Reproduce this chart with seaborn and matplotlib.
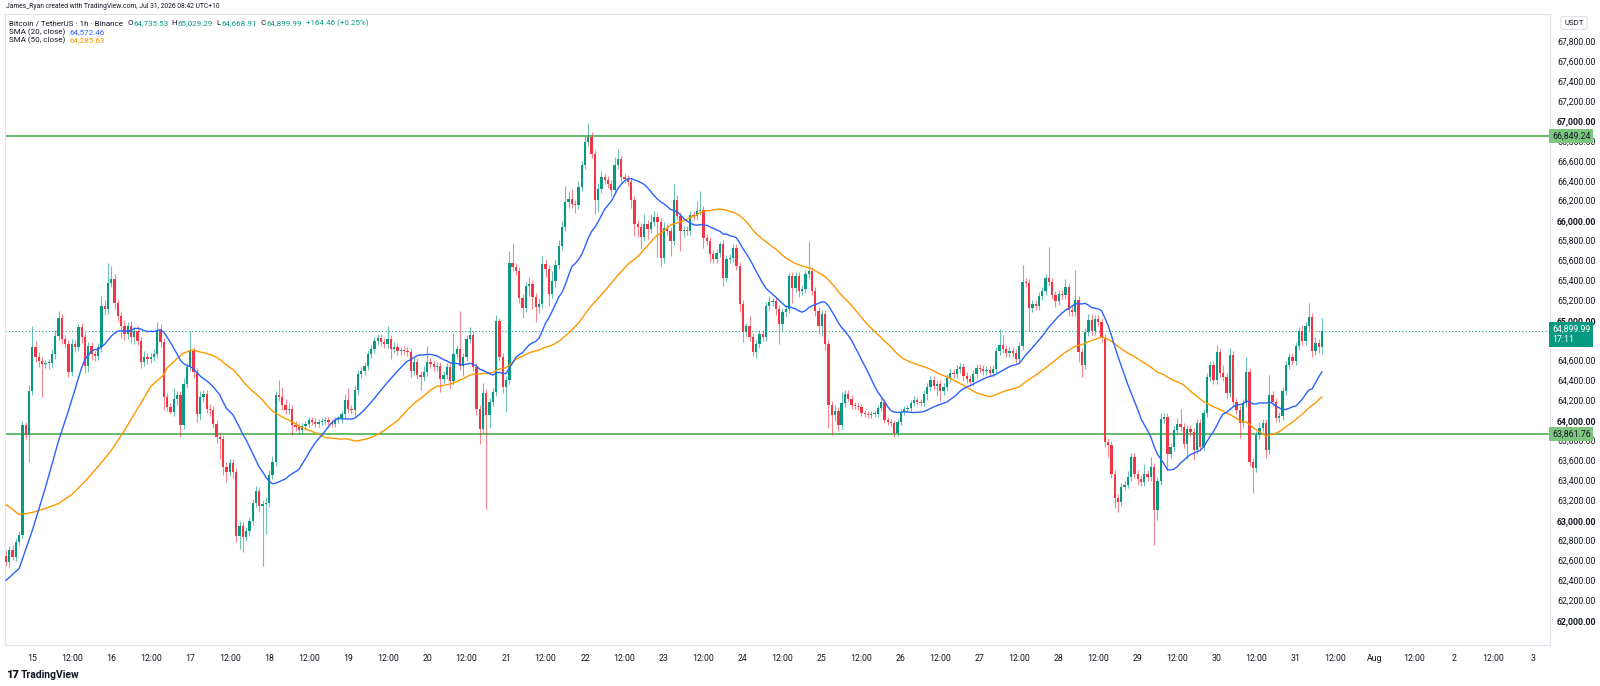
import numpy as np
import pandas as pd
import seaborn as sns
import matplotlib.pyplot as plt
import matplotlib.transforms as mtransforms

# BTC/USDT 1h (Binance), first candle Jul 14 16:00, last Jul 31 08:00 (UTC+10)
first_open = 62640
closes = [
    # i0 - Jul 14 16:00
    62580, 62700, 62630, 62780, 62850, 63955, 63860, 64300, 64735, 64640,
    64600, 64570, 64575, 64580, 64670, 64850, 65030, 64820, 64770, 64485,
    64770, 64735, 64940, 64835, 64550, 64750, 64670, 64650, 64735, 65150,
    65115, 65380, 65415, 65180, 65050, 64950, 64865, 64950, 64835, 64900,
    # i40
    64800, 64585, 64635, 64620, 64640, 64670, 64905, 64785, 64235, 64135,
    64090, 64220, 64255, 63955, 64370, 64535, 64700, 64485, 64070, 64235,
    64270, 64120, 64105, 63970, 63840, 63820, 63540, 63490, 63575, 63490,
    62845, 62945, 62830, 62895, 62995, 63175, 63290, 63140,
    # i78 - Jul 18
    63160, 63175, 63460, 63590, 64255, 64235, 64155, 64105, 64120, 63955,
    63940, 63905, 63945, 63970, 64010, 63990, 63970, 63990, 64000, 64005,
    63985, 63970, 64005, 64020, 64070, 64210, 64120, 64105, 64305, 64470,
    64500, 64550, 64670, 64720, 64800, 64830, 64785, 64770, 64815, 64720,
    64735, 64700,
    # i120
    64700, 64695, 64685, 64500, 64585, 64460, 64435, 64485, 64585, 64570,
    64535, 64550, 64420, 64460, 64535, 64400, 64670, 64720, 64550, 64635,
    64815, 64860, 64535, 64120, 63920, 64275, 64055, 64190, 64285, 65000,
    64635, 64335, 64410, 65580, 65540, 65500, 65230, 65130, 65345,
    # i159
    65370, 65235, 65140, 65170, 65570, 65520, 65270, 65400, 65560, 65750,
    65940, 66190, 66220, 66170, 66160, 66340, 66555, 66790, 66840, 66670,
    66205, 66320, 66440, 66405, 66370, 66305, 66555, 66620, 66440, 66420,
    66390, 66205, 65970, 65940, 65840, 65970, 65920, 65990, 66040, 65990,
    # i199
    65630, 65930, 65900, 65800, 66210, 66045, 65895, 65910, 65900, 66060,
    66045, 66095, 66110, 65830, 65800, 65665, 65615, 65680, 65770, 65430,
    65615, 65630, 65730, 65550, 65170, 64890, 64950, 64840, 64690, 64770,
    64870, 64840, 65150, 65185, 65200, 65120, 64970, 65085, 65120, 65450,
    # i239
    65330, 65447, 65300, 65315, 65464, 65497, 65300, 65100, 64950, 65070,
    64767, 64155, 64055, 64100, 63955, 64177, 64270, 64220, 64155, 64147,
    64137, 64071, 64064, 64060, 64065, 64070, 64121, 64187, 64005, 63990,
    63972, 63872, 63990, 64088, 64111, 64125, 64177, 64210, 64190, 64180,
    64270,
    # i280
    64335, 64410, 64350, 64370, 64300, 64340, 64430, 64480, 64470, 64520,
    64540, 64450, 64420, 64390, 64470, 64530, 64515, 64500, 64510, 64480,
    64520, 64700, 64760, 64720, 64680, 64700, 64680, 64620, 64750, 65390,
    65380, 65130, 65170, 65150, 65250, 65300, 65430, 65390, 65260, 65200,
    65270,
    # i321
    65260, 65340, 65110, 65090, 65210, 64690, 64555, 64890, 65010, 64900,
    65020, 64990, 64825, 63790, 63755, 63470, 63220, 63180, 63340, 63360,
    63440, 63640, 63470, 63420, 63390, 63470, 63440, 63540, 63105, 63400,
    64020, 64040, 63670, 63740, 63905, 63970, 63940, 63770, 63920, 63890,
    # i361
    63705, 63972, 63738, 64072, 64439, 64556, 64406, 64690, 64473, 64440,
    64272, 64656, 64189, 64106, 63972, 64172, 64489, 63588, 63521, 63855,
    63922, 63972, 63705, 64256, 64189, 64022, 64050, 64300, 64560, 64640,
    64600, 64750, 64900, 64800, 64950, 65040, 64700, 64780, 64735.53, 64899.99,
]

# wick length above / below the body, in USDT
wick_up = [
    60, 40, 50, 30, 40, 40, 30, 60, 215, 60,
    50, 40, 30, 40, 50, 60, 70, 40, 40, 40,
    50, 40, 25, 40, 50, 40, 40, 30, 40, 100,
    60, 200, 130, 50, 40, 40, 60, 40, 50, 40,
    50, 40, 60, 40, 40, 50, 80, 60, 40, 40,
    40, 110, 40, 40, 60, 40, 200, 40, 40, 60,
    40, 40, 50, 40, 40, 40, 40, 50, 40, 40,
    40, 50, 40, 40, 40, 40, 60, 40, 40, 60,
    50, 60, 40, 150, 100, 60, 60, 40, 40, 40,
    30, 30, 30, 30, 40, 30, 30, 30, 30, 30,
    30, 30, 30, 60, 120, 40, 40, 40, 40, 40,
    40, 40, 40, 40, 40, 40, 135, 40, 50, 40,
    40, 50, 40, 40, 50, 40, 40, 60, 165, 40,
    40, 40, 40, 40, 40, 40, 210, 40, 380, 40,
    40, 80, 40, 40, 40, 100, 40, 40, 40, 60,
    30, 40, 40, 120, 200, 40, 40, 40, 40,
    70, 40, 40, 60, 80, 50, 40, 100, 60, 60,
    60, 160, 80, 100, 40, 60, 40, 60, 140, 50,
    40, 60, 60, 40, 40, 40, 80, 100, 40, 40,
    40, 40, 40, 40, 40, 100, 40, 80, 60, 40,
    40, 60, 40, 40, 160, 50, 40, 40, 40, 40,
    40, 100, 190, 40, 40, 40, 40, 40, 20, 40,
    40, 40, 40, 40, 40, 40, 30, 100, 40, 40,
    40, 40, 40, 60, 30, 40, 40, 40, 40, 30,
    40, 40, 40, 40, 40, 300, 40, 40, 40, 40,
    40, 40, 40, 60, 40, 110, 40, 40, 40, 30,
    30, 30, 30, 30, 30, 30, 30, 40, 30, 30,
    30, 30, 30, 30, 30, 30, 30, 40, 30, 30, 40,
    40, 40, 40, 40, 40, 40, 40, 40, 40, 40,
    40, 40, 40, 40, 40, 40, 40, 40, 40, 40,
    40, 40, 160, 100, 40, 40, 40, 40, 40, 170, 40,
    40, 40, 40, 40, 40, 40, 306, 40, 40, 40,
    40, 80, 40, 40, 300, 40, 40, 40, 60, 60,
    40, 40, 40, 40, 40, 40, 40, 40, 40, 40,
    60, 40, 40, 40, 40, 100, 40, 100, 40, 40,
    60, 40, 40, 40, 40, 60, 150, 40, 40, 40,
    40, 40, 40, 40, 40, 40, 40, 70, 40, 80,
    40, 70, 40, 40, 40, 40, 150, 40, 40, 40,
    60, 40, 40, 200, 40, 40, 40, 40, 40, 40,
    40, 40, 40, 60, 40, 140, 40, 60, 40, 129.30,
]
wick_dn = [
    40, 50, 30, 40, 30, 30, 40, 270, 40, 50,
    60, 330, 40, 60, 40, 50, 40, 50, 40, 50,
    40, 50, 40, 60, 70, 60, 60, 50, 40, 50,
    60, 50, 40, 60, 50, 120, 60, 50, 60, 70,
    40, 60, 40, 50, 40, 40, 40, 50, 130, 40,
    20, 40, 60, 115, 40, 40, 40, 60, 80, 60,
    50, 40, 60, 40, 60, 200, 80, 100, 40, 60,
    60, 135, 150, 40, 50, 40, 40, 60, 595, 300,
    40, 40, 40, 40, 50, 40, 40, 100, 40, 40,
    40, 40, 30, 30, 30, 30, 30, 30, 30, 30,
    30, 30, 40, 40, 40, 40, 60, 50, 40, 40,
    40, 40, 40, 40, 40, 40, 40, 100, 40, 40,
    40, 40, 40, 60, 40, 40, 130, 40, 40, 40,
    40, 40, 134, 40, 40, 80, 40, 40, 40, 100,
    40, 40, 40, 60, 150, 40, 945, 130, 40, 40,
    40, 60, 250, 40, 40, 40, 50, 100, 40,
    100, 120, 150, 60, 40, 80, 120, 40, 60, 40,
    40, 40, 60, 40, 80, 40, 40, 40, 40, 40,
    135, 120, 40, 40, 40, 60, 40, 40, 50, 40,
    40, 80, 120, 100, 120, 40, 100, 40, 40, 350,
    80, 50, 40, 150, 40, 40, 200, 60, 40, 40,
    40, 40, 40, 100, 40, 80, 40, 40, 40, 80,
    40, 40, 40, 40, 80, 100, 40, 40, 40, 60,
    40, 40, 40, 40, 40, 60, 200, 60, 40, 40,
    150, 40, 60, 40, 40, 40, 40, 50, 80, 100,
    60, 230, 200, 60, 60, 40, 40, 20, 40, 30,
    30, 30, 30, 30, 30, 30, 30, 30, 30, 30,
    30, 40, 30, 30, 30, 30, 30, 30, 30, 30, 30,
    60, 40, 40, 100, 100, 40, 40, 40, 40, 40,
    40, 40, 40, 40, 40, 40, 40, 40, 40, 40,
    40, 40, 40, 40, 40, 40, 40, 40, 40, 40, 40,
    230, 40, 40, 40, 40, 40, 40, 40, 60, 40,
    40, 40, 60, 40, 40, 100, 115, 40, 40, 40,
    40, 40, 40, 50, 120, 40, 100, 100, 40, 40,
    40, 40, 40, 60, 40, 40, 40, 40, 355, 100,
    40, 40, 170, 40, 40, 40, 40, 40, 150, 40,
    100, 40, 40, 40, 40, 40, 40, 40, 40, 40,
    60, 40, 40, 40, 150, 40, 40, 40, 250, 40,
    40, 40, 80, 40, 40, 40, 40, 40, 40, 40,
    40, 40, 40, 40, 40, 40, 60, 40, 60, 66.62,
]

sma20_head_hours = [-8, -4, 0, 4, 8]
sma20_head = [62400, 62520, 62900, 63330, 63800]
sma50_head_hours = [-8, -4, 0, 4, 8, 12, 16, 20, 24, 28, 32, 36, 40]
sma50_head = [63160, 63060, 63080, 63120, 63170, 63260, 63390, 63540,
              63700, 63900, 64120, 64340, 64460]

level_hi = 66849.24
level_lo = 63861.76
last_price = 64899.99

assert len(closes) == len(wick_up) == len(wick_dn) == 401

UP = '#089981'
DOWN = '#F23645'
TXT = '#131722'
GRID = '#e0e3eb'

df = pd.DataFrame({'close': closes})
df['open'] = [first_open] + closes[:-1]
df['high'] = df[['open', 'close']].max(axis=1) + np.array(wick_up)
df['low'] = df[['open', 'close']].min(axis=1) - np.array(wick_dn)
df['hour'] = np.arange(len(df)) - 8
df['up'] = df['close'] >= df['open']
df['sma20'] = df['close'].rolling(20).mean()
df['sma50'] = df['close'].rolling(50).mean()

sns.set_theme(style='white')
plt.rcParams['font.family'] = ['Roboto', 'DejaVu Sans']

W, H = 1600, 686
fig = plt.figure(figsize=(16, 6.86), dpi=100)
fig.patch.set_facecolor('white')
ax_l, ax_r, ax_t, ax_b = 5, 1550, 14, 645
ax = fig.add_axes([ax_l / W, 1 - ax_b / H, (ax_r - ax_l) / W, (ax_b - ax_t) / H])

# candles
cols = np.where(df['up'], UP, DOWN)
ax.vlines(df['hour'], df['low'], df['high'], colors=cols, linewidth=0.8, alpha=0.6, zorder=2)
body_lo = df[['open', 'close']].min(axis=1)
body_h = (df['close'] - df['open']).abs().clip(lower=8)
ax.bar(df['hour'], body_h, bottom=body_lo, width=0.7, color=cols, linewidth=0, zorder=3)

# moving averages
sma20_x = sma20_head_hours + list(df['hour'][19:])
sma20_y = sma20_head + list(df['sma20'][19:])
sma50_x = sma50_head_hours + list(df['hour'][49:])
sma50_y = sma50_head + list(df['sma50'][49:])
sns.lineplot(x=sma50_x, y=sma50_y, ax=ax, color='#FF9800', linewidth=1.0, zorder=4)
sns.lineplot(x=sma20_x, y=sma20_y, ax=ax, color='#2962FF', linewidth=1.0, zorder=4)

# horizontal levels and last price
ax.axhline(level_hi, color='#4caf50', linewidth=1.2, zorder=1)
ax.axhline(level_lo, color='#4caf50', linewidth=1.2, zorder=1)
ax.axhline(last_price, color=UP, linewidth=0.8, linestyle=(0, (1, 2)), zorder=1)

x_left = -8.3
hour_px = 3.29
ax.set_xlim(x_left, x_left + (ax_r - ax_l) / hour_px)
ax.set_ylim(61754, 68068)

xt = np.arange(0, 457, 12)
xlabels = []
for h in xt:
    if h % 24:
        xlabels.append('12:00')
    else:
        d = 15 + h // 24
        xlabels.append(str(d) if d <= 31 else ('Aug' if d == 32 else str(d - 31)))
ax.set_xticks(xt)
ax.set_xticklabels(xlabels)

yt = np.arange(62000, 67801, 200)
ax.yaxis.tick_right()
ax.set_yticks(yt)
ax.set_yticklabels([f'{v:,.2f}' for v in yt])
for lab, v in zip(ax.get_yticklabels(), yt):
    if v % 1000 == 0:
        lab.set_fontweight('bold')
    if v == 64800:
        # hidden behind the last-price tag
        lab.set_visible(False)

ax.tick_params(axis='x', length=0, pad=6.8, labelsize=6.3, labelcolor=TXT)
ax.tick_params(axis='y', length=0, pad=5, labelsize=6.3, labelcolor=TXT)
ax.set_xlabel('')
ax.set_ylabel('')
for s in ax.spines.values():
    s.set_color(GRID)
    s.set_linewidth(0.8)
ax.grid(False)

# price scale labels
trans = mtransforms.blended_transform_factory(ax.transAxes, ax.transData)
bx = 1 + 2 / (ax_r - ax_l)
for lvl in (level_hi, level_lo):
    ax.text(bx, lvl, f'{lvl:,.2f}', transform=trans, ha='left', va='center',
            fontsize=6.3, color=TXT, clip_on=False, zorder=10,
            bbox=dict(boxstyle='square,pad=0.3', fc='#7cc67f', ec='none'))
ax.text(bx, last_price + 55, '64,899.99\n17:11', transform=trans, ha='left', va='top',
        fontsize=6.3, color='white', linespacing=1.15, clip_on=False, zorder=10,
        bbox=dict(boxstyle='square,pad=0.3', fc=UP, ec='none'))


def px(x, y):
    return x / W, 1 - y / H


fig.text(*px(1574, 23), 'USDT', ha='center', va='center', fontsize=5.6, color=TXT,
         bbox=dict(boxstyle='round,pad=0.45,rounding_size=0.3', fc='white', ec=GRID, lw=0.8))

# header and legend
fig.text(*px(6, 7), 'James_Ryan created with TradingView.com, Jul 31, 2026 08:42 UTC+10',
         fontsize=4.85, color=TXT, va='center')

renderer = fig.canvas.get_renderer()


def text_row(x, y, pieces, size=5.8):
    for s, c, gap in pieces:
        t = fig.text(*px(x, y), s, fontsize=size, color=c, va='center')
        x += t.get_window_extent(renderer).width + gap


text_row(9, 23, [
    ('Bitcoin / TetherUS · 1h · Binance', TXT, 4),
    ('O', TXT, 0.5), ('64,735.53', UP, 3.5),
    ('H', TXT, 0.5), ('65,029.29', UP, 3.5),
    ('L', TXT, 0.5), ('64,668.91', UP, 3.5),
    ('C', TXT, 0.5), ('64,899.99', UP, 4),
    ('+164.46 (+0.25%)', UP, 0),
])
text_row(9, 32, [('SMA (20, close)', TXT, 4), ('64,572.46', '#2962FF', 0)])
text_row(9, 40.5, [('SMA (50, close)', TXT, 4), ('64,285.63', '#FF9800', 0)])

# footer logo
fig.text(*px(6, 675), '17', fontsize=8, fontweight='heavy', color=TXT, va='center')
fig.text(*px(21, 675), 'TradingView', fontsize=7.5, fontweight='bold', color=TXT, va='center')

fig.savefig('out.png', dpi=100, facecolor='white')
